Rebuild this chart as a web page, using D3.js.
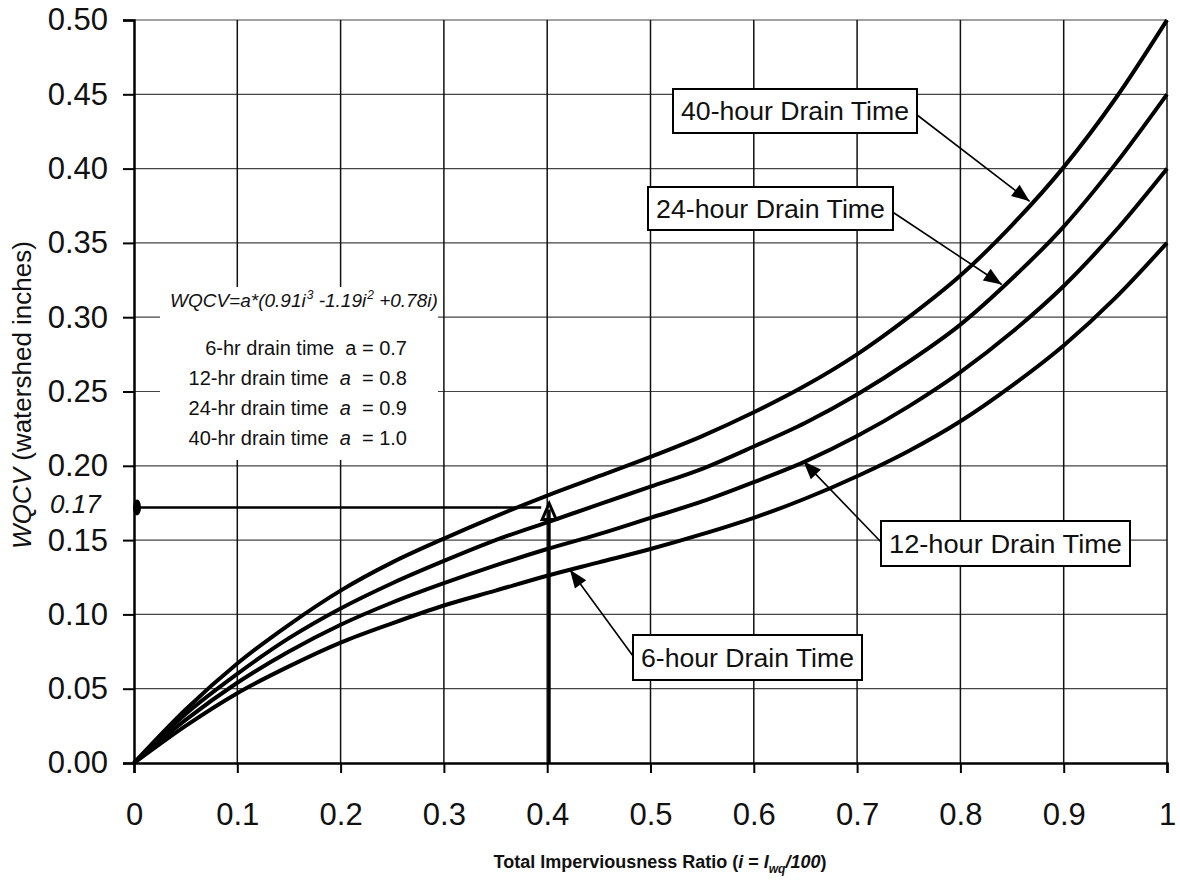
<!DOCTYPE html>
<html><head><meta charset="utf-8">
<script src="https://cdn.jsdelivr.net/npm/d3@7"></script>
<style>
body{margin:0;background:#fff}
svg{display:block}
text{font-family:"Liberation Sans",Arial,Helvetica,sans-serif;fill:#111}
</style>
</head><body>
<svg id="chart" width="1180" height="886"></svg>
<script>
// ---- data ----
const imperviousness = [0,0.05,0.10,0.15,0.20,0.25,0.30,0.35,0.40,0.45,0.50,0.55,0.60,0.65,0.70,0.75,0.80,0.85,0.90,0.95,1.00];
const wqcv40hr = [0,0.036,0.067,0.093,0.116,0.135,0.151,0.166,0.180,0.193,0.206,0.220,0.236,0.254,0.275,0.300,0.328,0.362,0.401,0.447,0.500];
const wqcv24hr = [0,0.033,0.060,0.084,0.104,0.121,0.136,0.150,0.162,0.174,0.186,0.198,0.213,0.229,0.248,0.270,0.295,0.326,0.361,0.403,0.450];
const wqcv12hr = [0,0.029,0.054,0.075,0.093,0.108,0.121,0.133,0.144,0.154,0.165,0.176,0.189,0.203,0.220,0.240,0.263,0.290,0.321,0.358,0.400];
const wqcv6hr  = [0,0.025,0.047,0.065,0.081,0.094,0.106,0.116,0.126,0.135,0.144,0.154,0.165,0.178,0.193,0.210,0.230,0.254,0.281,0.313,0.350];
const seriesLabels = ["40-hour Drain Time","24-hour Drain Time","12-hour Drain Time","6-hour Drain Time"];
const arrowTipI = [0.867,0.840,0.648,0.422];
const arrowTipValue = [0.378,0.322,0.203,0.130];
const xTickValues = [0,0.1,0.2,0.3,0.4,0.5,0.6,0.7,0.8,0.9,1];
const xTickLabels = ["0","0.1","0.2","0.3","0.4","0.5","0.6","0.7","0.8","0.9","1"];
const yTickValues = [0,0.05,0.10,0.15,0.20,0.25,0.30,0.35,0.40,0.45,0.50];
const yTickLabels = ["0.00","0.05","0.10","0.15","0.20","0.25","0.30","0.35","0.40","0.45","0.50"];
const drainHours = ["6","12","24","40"];
const coefficientA = ["0.7","0.8","0.9","1.0"];
const markedI = 0.4;
const markedValue = 0.172;
const markedLabel = "0.17";

// ---- layout ----
const svg = d3.select("#chart");
const L = 134, R = 1167, T = 20, B = 763;
const x = d3.scaleLinear().domain([0,1]).range([L,R]);
const y = d3.scaleLinear().domain([0,0.5]).range([B,T]);
const NB = "\u00A0";

// gridlines
const grid = svg.append("g");
grid.selectAll("line.h").data(yTickValues.slice(1)).join("line")
  .attr("x1",L).attr("x2",R).attr("y1",d=>y(d)).attr("y2",d=>y(d))
  .attr("stroke","#444").attr("stroke-width",1.2);
grid.selectAll("line.v").data(xTickValues.slice(1)).join("line")
  .attr("y1",T).attr("y2",B).attr("x1",d=>x(d)).attr("x2",d=>x(d))
  .attr("stroke","#111").attr("stroke-width",1.5);

// white box behind formula text
svg.append("rect").attr("x",160).attr("y",287).attr("width",278).attr("height",173).attr("fill","#fff");

// axes
const yAxis = d3.axisLeft(y).tickValues(yTickValues).tickFormat((d,i)=>yTickLabels[i]).tickSize(11).tickPadding(15);
const gy = svg.append("g").attr("transform",`translate(${L},0)`).call(yAxis);
gy.select(".domain").attr("stroke","#000").attr("stroke-width",2.5);
gy.selectAll(".tick line").attr("stroke","#000").attr("stroke-width",2);
gy.selectAll(".tick text").attr("font-size",31).attr("font-family","Liberation Sans, Arial, sans-serif").attr("fill","#111");

const xAxis = d3.axisBottom(x).tickValues(xTickValues).tickFormat((d,i)=>xTickLabels[i]).tickSize(10).tickPadding(30);
const gx = svg.append("g").attr("transform",`translate(0,${B})`).call(xAxis);
gx.select(".domain").attr("stroke","#000").attr("stroke-width",2.5);
gx.selectAll(".tick line").attr("stroke","#000").attr("stroke-width",2);
gx.selectAll(".tick text").attr("font-size",31).attr("font-family","Liberation Sans, Arial, sans-serif").attr("fill","#111");

// curves
const series = [wqcv40hr,wqcv24hr,wqcv12hr,wqcv6hr];
const line = d3.line().x((d,i)=>x(imperviousness[i])).y(d=>y(d)).curve(d3.curveMonotoneX);
svg.append("g").selectAll("path").data(series).join("path")
  .attr("d",line).attr("fill","none").attr("stroke","#000").attr("stroke-width",4).attr("stroke-linejoin","round");

// arrow helper
function arrow(x1,y1,x2,y2,len,half,w){
  svg.append("line").attr("x1",x1).attr("y1",y1).attr("x2",x2).attr("y2",y2)
    .attr("stroke","#000").attr("stroke-width",w);
  const a = Math.atan2(y2-y1,x2-x1);
  const bx = x2-len*Math.cos(a), by = y2-len*Math.sin(a);
  const px = -Math.sin(a)*half, py = Math.cos(a)*half;
  svg.append("path").attr("d",`M${x2},${y2}L${bx+px},${by+py}L${bx-px},${by-py}Z`).attr("fill","#000");
}

// label boxes with arrows
const boxes = [
  {x:673,y:89,w:244,h:44,sx:908,sy:108},
  {x:648,y:187,w:245,h:43,sx:885,sy:207},
  {x:881,y:521,w:249,h:45,sx:881,sy:542},
  {x:633,y:635,w:229,h:45,sx:633,sy:656}
];
boxes.forEach((b,k)=>{
  arrow(b.sx,b.sy,x(arrowTipI[k]),y(arrowTipValue[k]),18,7,1.6);
});
boxes.forEach((b,k)=>{
  svg.append("rect").attr("x",b.x).attr("y",b.y).attr("width",b.w).attr("height",b.h)
    .attr("fill","#fff").attr("stroke","#000").attr("stroke-width",2);
  svg.append("text").attr("x",b.x+b.w/2).attr("y",b.y+b.h/2+9).attr("text-anchor","middle")
    .attr("font-size",25).attr("textLength",b.w-16).attr("lengthAdjust","spacingAndGlyphs")
    .text(seriesLabels[k]);
});

// formula block
const f = svg.append("text").attr("x",170).attr("y",307).attr("font-size",19).attr("font-style","italic");
f.append("tspan").text("WQCV=a*(0.91i");
f.append("tspan").attr("font-size",12).attr("dy",-8).attr("dx",1).text("3");
f.append("tspan").attr("dy",8).text(NB+"-1.19i");
f.append("tspan").attr("font-size",12).attr("dy",-8).attr("dx",1).text("2");
f.append("tspan").attr("dy",8).text(NB+"+0.78i)");
drainHours.forEach((h,k)=>{
  const t = svg.append("text").attr("x",407).attr("y",355+30*k).attr("text-anchor","end").attr("font-size",20);
  t.append("tspan").text(`${h}-hr drain time${NB}${NB}`);
  t.append("tspan").attr("font-style",k===0?"normal":"italic").text("a");
  t.append("tspan").text(k===0?NB+"="+NB:NB+NB+"="+NB);
  t.append("tspan").text(coefficientA[k]);
});

// handwritten marking
const hy = y(markedValue);
svg.append("line").attr("x1",x(0)).attr("x2",x(markedI)-6).attr("y1",hy).attr("y2",hy)
  .attr("stroke","#000").attr("stroke-width",2.5);
svg.append("ellipse").attr("cx",x(0)+3).attr("cy",hy).attr("rx",4).attr("ry",8).attr("fill","#000");
svg.append("line").attr("x1",x(markedI)+2).attr("x2",x(markedI)+2).attr("y1",y(0)).attr("y2",y(markedValue)+2)
  .attr("stroke","#000").attr("stroke-width",3);
svg.append("path").attr("d",`M${x(markedI)+2},${y(markedValue)-4}L${x(markedI)-5},${y(markedValue)+12}L${x(markedI)+9},${y(markedValue)+12}Z`)
  .attr("fill","none").attr("stroke","#000").attr("stroke-width",3);
svg.append("text").attr("x",50).attr("y",hy+6).attr("font-size",26)
  .attr("font-family","DejaVu Sans, sans-serif").attr("font-style","italic").attr("fill","#111").text(markedLabel);

// axis titles
const yt = svg.append("text").attr("transform","translate(31,395) rotate(-90)").attr("text-anchor","middle").attr("font-size",26);
yt.append("tspan").attr("font-style","italic").text("WQCV");
yt.append("tspan").text(NB+"(watershed inches)");

const xt = svg.append("text").attr("x",660).attr("y",868).attr("text-anchor","middle").attr("font-size",18).attr("font-weight","bold");
xt.append("tspan").text("Total Imperviousness Ratio (");
xt.append("tspan").attr("font-style","italic").text("i");
xt.append("tspan").text(NB+"="+NB);
xt.append("tspan").attr("font-style","italic").text("I");
xt.append("tspan").attr("font-style","italic").attr("font-size",12).attr("dy",5).text("wq");
xt.append("tspan").attr("font-style","italic").attr("dy",-5).text("/100");
xt.append("tspan").text(")");
</script>
</body></html>
